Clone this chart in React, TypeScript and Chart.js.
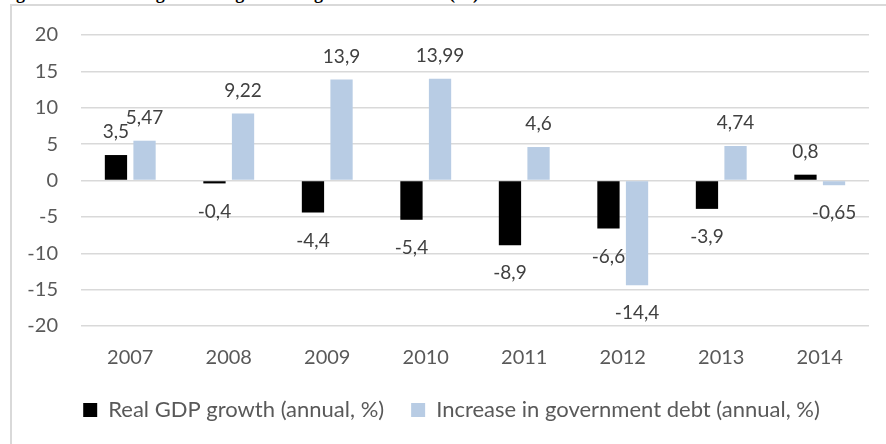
import React, { useEffect, useRef } from "react";
import { Chart, registerables } from "chart.js";

Chart.register(...registerables);

const categories = ["2007", "2008", "2009", "2010", "2011", "2012", "2013", "2014"];
const gdpGrowth = [3.5, -0.4, -4.4, -5.4, -8.9, -6.6, -3.9, 0.8];
const debtIncrease = [5.47, 9.22, 13.9, 13.99, 4.6, -14.4, 4.74, -0.65];
const seriesNames = ["Real GDP growth (annual, %)", "Increase in government debt (annual, %)"];
const yMin = -20;
const yMax = 20;
const yStep = 5;
const titleText = "Figure 1: Real GDP growth vs growth in government debt (%)";

const FONT = "Lato, 'Open Sans', sans-serif";
const TEXT = "#595959";
const GRID = "#d9d9d9";

const valueLabels = {
  id: "valueLabels",
  afterDatasetsDraw(chart: any) {
    const ctx = chart.ctx;
    ctx.save();
    ctx.font = `19px ${FONT}`;
    ctx.fillStyle = "#404040";
    ctx.textAlign = "center";
    ctx.textBaseline = "middle";
    chart.data.datasets.forEach((ds: any, i: number) => {
      const meta = chart.getDatasetMeta(i);
      meta.data.forEach((bar: any, j: number) => {
        const v = ds.data[j] as number;
        const y = v >= 0 ? bar.y - 23 : bar.y + 28;
        ctx.fillText(String(v).replace(".", ","), bar.x, y);
      });
    });
    ctx.restore();
  },
};

const legendShift = {
  id: "legendShift",
  afterLayout(chart: any) {
    if (chart.legend) {
      chart.legend.left += 17;
      chart.legend.right += 17;
    }
  },
};

export default function App() {
  const ref = useRef<HTMLCanvasElement | null>(null);

  useEffect(() => {
    if (!ref.current) return;
    const chart = new Chart(ref.current, {
      type: "bar",
      data: {
        labels: categories,
        datasets: [
          {
            label: seriesNames[0],
            data: gdpGrowth,
            backgroundColor: "#000000",
            categoryPercentage: 0.58,
            barPercentage: 0.78,
          },
          {
            label: seriesNames[1],
            data: debtIncrease,
            backgroundColor: "#b8cce4",
            categoryPercentage: 0.58,
            barPercentage: 0.78,
          },
        ],
      },
      options: {
        animation: false,
        responsive: false,
        devicePixelRatio: 1,
        layout: { padding: { left: 0, right: 17, top: 34, bottom: 13 } },
        plugins: {
          legend: {
            position: "bottom",
            labels: {
              boxWidth: 14,
              boxHeight: 14,
              padding: 27,
              color: TEXT,
              font: { family: FONT, size: 22 },
            },
          },
          tooltip: { enabled: false },
          title: { display: false },
        },
        scales: {
          x: {
            grid: { display: false },
            border: { display: false },
            ticks: { color: TEXT, font: { family: FONT, size: 20 }, padding: 12 },
            afterFit: (s: any) => {
              s.height = 46;
            },
          },
          y: {
            min: yMin,
            max: yMax,
            ticks: { stepSize: yStep, color: TEXT, font: { family: FONT, size: 20 }, padding: 23 },
            grid: { color: GRID, lineWidth: 1.5, drawTicks: false },
            border: { display: false },
            afterFit: (s: any) => {
              s.width = 81;
            },
          },
        },
      },
      plugins: [valueLabels, legendShift],
    });
    return () => chart.destroy();
  }, []);

  return (
    <div
      style={{
        position: "fixed",
        left: 0,
        top: 0,
        width: 886,
        height: 444,
        background: "#ffffff",
        overflow: "hidden",
      }}
    >
      <div
        style={{
          position: "absolute",
          left: 0,
          top: -16,
          whiteSpace: "nowrap",
          fontFamily: "'Liberation Serif', 'Times New Roman', serif",
          fontWeight: "bold",
          fontSize: 18,
          lineHeight: "18px",
          color: "#000",
        }}
      >
        {titleText}
      </div>
      <div
        style={{
          position: "absolute",
          left: 10,
          top: 4,
          width: 900,
          height: 460,
          border: "2px solid #d9d9d9",
          boxSizing: "border-box",
        }}
      />
      <canvas
        ref={ref}
        width={886}
        height={444}
        style={{ position: "absolute", left: 0, top: 0, width: 886, height: 444 }}
      />
    </div>
  );
}
